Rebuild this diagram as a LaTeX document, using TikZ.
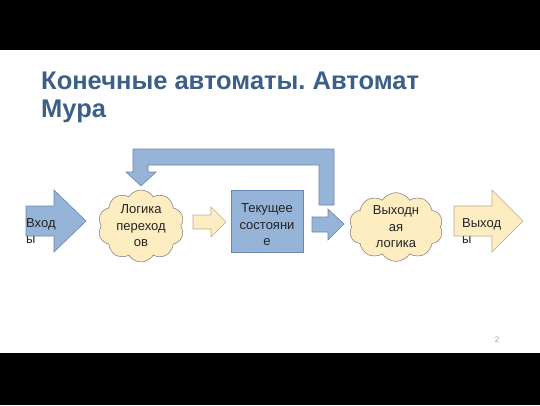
\documentclass[tikz,border=0pt]{standalone}
\usepackage{fontspec}
\setmainfont{Liberation Sans}
\usetikzlibrary{shapes.symbols}
\frenchspacing

\definecolor{titleblue}{RGB}{59,95,136}
\definecolor{fillblue}{RGB}{150,180,215}
\definecolor{lineblue}{RGB}{105,135,178}
\definecolor{fillyellow}{RGB}{253,237,192}
\definecolor{lineyellow}{RGB}{185,172,140}
\definecolor{linecloud}{RGB}{135,135,135}
\definecolor{textdark}{RGB}{35,35,35}

\tikzset{
    bluebody/.style={fill=fillblue, draw=lineblue, line width=0.6pt, line join=miter},
    yellowbody/.style={fill=fillyellow, draw=lineyellow, line width=0.6pt, line join=miter},
    cloudbox/.style={cloud, cloud puffs=10, cloud puff arc=115, aspect=1.2,
        fill=fillyellow, draw=linecloud, line width=0.6pt, inner sep=0pt,
        text=textdark, align=center, font=\fontsize{13}{16.5}\selectfont},
    statebox/.style={rectangle, fill=fillblue, draw=lineblue, line width=0.6pt},
    boxtext/.style={inner sep=0pt, text=textdark, align=center,
        font=\fontsize{13}{16.5}\selectfont},
    arrowtext/.style={anchor=west, inner sep=0pt, text=textdark, align=left,
        font=\fontsize{13}{16.5}\selectfont},
    titletext/.style={anchor=base west, inner sep=0pt, text=titleblue,
        font=\fontsize{25.5}{28}\selectfont\bfseries}
}

\begin{document}
\begin{tikzpicture}[x=1pt, y=-1pt]

    % Page frame with the black bars
    \useasboundingbox (0,0) rectangle (540,405);
    \fill[white] (0,0) rectangle (540,405);
    \fill[black] (0,0) rectangle (540,50);
    \fill[black] (0,353) rectangle (540,405);

    % Title
    \node[titletext] (title) at (41,89) {Конечные автоматы. Автомат};
    \node[titletext] (subtitle) at (41,117) {Мура};

    % Feedback arrow from the state back to the logic
    \draw[bluebody] (334,205) -- (334,149) -- (133,149) -- (133,172) -- (126,172)
        -- (141,186) -- (156,172) -- (148,172) -- (148,165) -- (319,165)
        -- (319,205) -- cycle;

    % Inputs arrow
    \draw[bluebody] (26,206) -- (54,206) -- (54,190) -- (86,221) -- (54,252)
        -- (54,236) -- (26,236) -- cycle;
    \node[arrowtext] (inputs) at (26,231) {Вход\\ы};

    % Transition logic
    \node[cloudbox, minimum width=86pt, minimum height=72pt] (logic) at (141,226)
        {Логика\\переход\\ов};

    % Arrow from the logic to the state
    \draw[yellowbody] (193,215) -- (211,215) -- (211,207) -- (226,222) -- (211,237)
        -- (211,229) -- (193,229) -- cycle;

    % Current state
    \node[statebox, minimum width=72pt, minimum height=62pt] (state) at (267,221) {};
    \node[boxtext] (statetext) at (267,225) {Текущее\\состояни\\е};

    % Arrow from the state to the output logic
    \draw[bluebody] (312,217) -- (328,217) -- (328,209) -- (344,224) -- (328,240)
        -- (328,232) -- (312,232) -- cycle;

    % Output logic
    \node[cloudbox, minimum width=94pt, minimum height=68pt] (outlogic) at (396,227)
        {Выходн\\ая\\логика};

    % Outputs arrow
    \draw[yellowbody] (454,206) -- (492,206) -- (492,190) -- (523,221) -- (492,252)
        -- (492,236) -- (454,236) -- cycle;
    \node[arrowtext] (outputs) at (462,231) {Выход\\ы};

    % Slide number
    \node[text=gray!70, font=\fontsize{8}{9}\selectfont] (pagenum) at (497,340) {2};

\end{tikzpicture}
\end{document}
